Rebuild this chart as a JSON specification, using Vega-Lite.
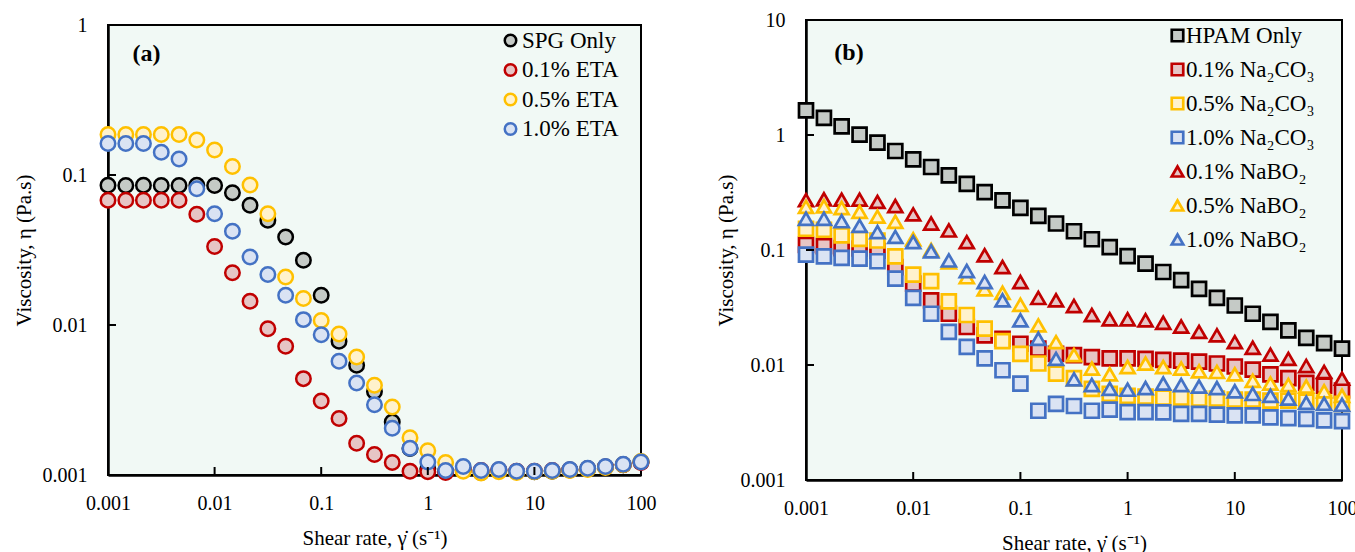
{
"$schema": "https://vega.github.io/schema/vega-lite/v6.json",
"padding": {"left": 12, "top": 9, "right": 2, "bottom": 0},
"background": "white",
"center": true,
"spacing": 57,
"config": {
  "font": "Times New Roman, Liberation Serif, serif",
  "view": {"fill": "#f1f9f5", "stroke": "black", "strokeWidth": 2},
  "axis": {"grid": false, "domainColor": "black", "domainWidth": 2.5, "ticks": false, "zindex": 1, "labelFlush": false,
           "labelFont": "Times New Roman, Liberation Serif, serif", "labelFontSize": 20, "labelColor": "black",
           "titleFont": "Times New Roman, Liberation Serif, serif", "titleFontSize": 21, "titleFontWeight": "normal", "titleColor": "black"},
  "axisX": {"labelPadding": 18, "titlePadding": 14},
  "axisY": {"labelPadding": 21},
  "legend": {"labelFont": "Times New Roman, Liberation Serif, serif", "labelFontSize": 23, "labelColor": "black", "title": null, "padding": 0, "orient": "none"}
},
"resolve": {"scale": {"x": "independent", "y": "independent", "fill": "independent", "stroke": "independent", "shape": "independent"}, "legend": {"fill": "independent", "stroke": "independent", "shape": "independent"}},
"hconcat": [
{
  "width": 533, "height": 450,
  "layer": [
    {"data": {"values": [
{"s":"SPG Only","x":0.001,"y":0.0854},{"s":"SPG Only","x":0.00147,"y":0.0852},{"s":"SPG Only","x":0.00215,"y":0.0853},{"s":"SPG Only","x":0.00316,"y":0.0852},{"s":"SPG Only","x":0.00464,"y":0.0852},{"s":"SPG Only","x":0.00681,"y":0.0853},{"s":"SPG Only","x":0.01,"y":0.085},{"s":"SPG Only","x":0.0147,"y":0.0762},{"s":"SPG Only","x":0.0215,"y":0.0628},{"s":"SPG Only","x":0.0316,"y":0.0499},{"s":"SPG Only","x":0.0464,"y":0.0386},{"s":"SPG Only","x":0.0681,"y":0.027},{"s":"SPG Only","x":0.1,"y":0.0158},{"s":"SPG Only","x":0.147,"y":0.0078},{"s":"SPG Only","x":0.215,"y":0.0054},{"s":"SPG Only","x":0.316,"y":0.0036},{"s":"SPG Only","x":0.464,"y":0.00226},{"s":"SPG Only","x":0.681,"y":0.0015},{"s":"SPG Only","x":1,"y":0.0011},{"s":"SPG Only","x":1.47,"y":0.00106},{"s":"SPG Only","x":2.15,"y":0.00108},{"s":"SPG Only","x":3.16,"y":0.00104},{"s":"SPG Only","x":4.64,"y":0.00107},{"s":"SPG Only","x":6.81,"y":0.00105},{"s":"SPG Only","x":10,"y":0.00105},{"s":"SPG Only","x":14.7,"y":0.00106},{"s":"SPG Only","x":21.5,"y":0.00108},{"s":"SPG Only","x":31.6,"y":0.0011},{"s":"SPG Only","x":46.4,"y":0.00113},{"s":"SPG Only","x":68.1,"y":0.00117},{"s":"SPG Only","x":100,"y":0.00122},
{"s":"0.1% ETA","x":0.001,"y":0.0678},{"s":"0.1% ETA","x":0.00147,"y":0.0678},{"s":"0.1% ETA","x":0.00215,"y":0.0678},{"s":"0.1% ETA","x":0.00316,"y":0.0678},{"s":"0.1% ETA","x":0.00464,"y":0.0678},{"s":"0.1% ETA","x":0.00681,"y":0.0547},{"s":"0.1% ETA","x":0.01,"y":0.0334},{"s":"0.1% ETA","x":0.0147,"y":0.0223},{"s":"0.1% ETA","x":0.0215,"y":0.0144},{"s":"0.1% ETA","x":0.0316,"y":0.00945},{"s":"0.1% ETA","x":0.0464,"y":0.00721},{"s":"0.1% ETA","x":0.0681,"y":0.00439},{"s":"0.1% ETA","x":0.1,"y":0.00311},{"s":"0.1% ETA","x":0.147,"y":0.00238},{"s":"0.1% ETA","x":0.215,"y":0.00163},{"s":"0.1% ETA","x":0.316,"y":0.00137},{"s":"0.1% ETA","x":0.464,"y":0.00121},{"s":"0.1% ETA","x":0.681,"y":0.00106},{"s":"0.1% ETA","x":1,"y":0.00105},{"s":"0.1% ETA","x":1.47,"y":0.00104},{"s":"0.1% ETA","x":2.15,"y":0.00108},{"s":"0.1% ETA","x":3.16,"y":0.00107},{"s":"0.1% ETA","x":4.64,"y":0.00108},{"s":"0.1% ETA","x":6.81,"y":0.00106},{"s":"0.1% ETA","x":10,"y":0.00106},{"s":"0.1% ETA","x":14.7,"y":0.00107},{"s":"0.1% ETA","x":21.5,"y":0.00108},{"s":"0.1% ETA","x":31.6,"y":0.0011},{"s":"0.1% ETA","x":46.4,"y":0.00113},{"s":"0.1% ETA","x":68.1,"y":0.00117},{"s":"0.1% ETA","x":100,"y":0.00121},
{"s":"0.5% ETA","x":0.001,"y":0.186},{"s":"0.5% ETA","x":0.00147,"y":0.186},{"s":"0.5% ETA","x":0.00215,"y":0.186},{"s":"0.5% ETA","x":0.00316,"y":0.186},{"s":"0.5% ETA","x":0.00464,"y":0.186},{"s":"0.5% ETA","x":0.00681,"y":0.171},{"s":"0.5% ETA","x":0.01,"y":0.147},{"s":"0.5% ETA","x":0.0147,"y":0.114},{"s":"0.5% ETA","x":0.0215,"y":0.0858},{"s":"0.5% ETA","x":0.0316,"y":0.0552},{"s":"0.5% ETA","x":0.0464,"y":0.0209},{"s":"0.5% ETA","x":0.0681,"y":0.015},{"s":"0.5% ETA","x":0.1,"y":0.0107},{"s":"0.5% ETA","x":0.147,"y":0.0087},{"s":"0.5% ETA","x":0.215,"y":0.00612},{"s":"0.5% ETA","x":0.316,"y":0.00397},{"s":"0.5% ETA","x":0.464,"y":0.00284},{"s":"0.5% ETA","x":0.681,"y":0.00177},{"s":"0.5% ETA","x":1,"y":0.00145},{"s":"0.5% ETA","x":1.47,"y":0.00121},{"s":"0.5% ETA","x":2.15,"y":0.00106},{"s":"0.5% ETA","x":3.16,"y":0.00103},{"s":"0.5% ETA","x":4.64,"y":0.00105},{"s":"0.5% ETA","x":6.81,"y":0.00104},{"s":"0.5% ETA","x":10,"y":0.00105},{"s":"0.5% ETA","x":14.7,"y":0.00106},{"s":"0.5% ETA","x":21.5,"y":0.00107},{"s":"0.5% ETA","x":31.6,"y":0.00109},{"s":"0.5% ETA","x":46.4,"y":0.00112},{"s":"0.5% ETA","x":68.1,"y":0.00117},{"s":"0.5% ETA","x":100,"y":0.00123},
{"s":"1.0% ETA","x":0.001,"y":0.162},{"s":"1.0% ETA","x":0.00147,"y":0.162},{"s":"1.0% ETA","x":0.00215,"y":0.162},{"s":"1.0% ETA","x":0.00316,"y":0.142},{"s":"1.0% ETA","x":0.00464,"y":0.128},{"s":"1.0% ETA","x":0.00681,"y":0.081},{"s":"1.0% ETA","x":0.01,"y":0.0552},{"s":"1.0% ETA","x":0.0147,"y":0.0421},{"s":"1.0% ETA","x":0.0215,"y":0.0284},{"s":"1.0% ETA","x":0.0316,"y":0.0217},{"s":"1.0% ETA","x":0.0464,"y":0.0158},{"s":"1.0% ETA","x":0.0681,"y":0.01086},{"s":"1.0% ETA","x":0.1,"y":0.00862},{"s":"1.0% ETA","x":0.147,"y":0.00573},{"s":"1.0% ETA","x":0.215,"y":0.00411},{"s":"1.0% ETA","x":0.316,"y":0.00294},{"s":"1.0% ETA","x":0.464,"y":0.00205},{"s":"1.0% ETA","x":0.681,"y":0.00151},{"s":"1.0% ETA","x":1,"y":0.00122},{"s":"1.0% ETA","x":1.47,"y":0.00107},{"s":"1.0% ETA","x":2.15,"y":0.00114},{"s":"1.0% ETA","x":3.16,"y":0.00107},{"s":"1.0% ETA","x":4.64,"y":0.00109},{"s":"1.0% ETA","x":6.81,"y":0.00106},{"s":"1.0% ETA","x":10,"y":0.00106},{"s":"1.0% ETA","x":14.7,"y":0.00107},{"s":"1.0% ETA","x":21.5,"y":0.00109},{"s":"1.0% ETA","x":31.6,"y":0.00111},{"s":"1.0% ETA","x":46.4,"y":0.00114},{"s":"1.0% ETA","x":68.1,"y":0.00118},{"s":"1.0% ETA","x":100,"y":0.00122}
     ]},
     "mark": {"type": "point", "shape": "circle", "filled": true, "opacity": 1, "strokeWidth": 2.5, "size": 210, "clip": false},
     "encoding": {
       "x": {"field": "x", "type": "quantitative", "scale": {"type": "log", "domain": [0.001, 100], "nice": false},
             "axis": {"title": "Shear rate, γ̇ (s⁻¹)", "values": [0.001, 0.01, 0.1, 1, 10, 100], "format": "~g", "labelFlush": false}},
       "y": {"field": "y", "type": "quantitative", "scale": {"type": "log", "domain": [0.001, 1], "nice": false},
             "axis": {"title": "Viscosity, η (Pa.s)", "values": [0.001, 0.01, 0.1, 1], "format": "~g", "titlePadding": 8, "labelFlush": false}},
       "fill": {"field": "s", "type": "nominal", "scale": {"domain": ["SPG Only", "0.1% ETA", "0.5% ETA", "1.0% ETA"], "range": ["#c5cac6", "#e6c5c5", "#fff2cc", "#dae3f3"]},
                "legend": {"legendX": 391, "legendY": 4, "symbolSize": 132, "symbolStrokeWidth": 2.5, "labelOffset": 0, "rowPadding": 5.5, "symbolType": "circle"}},
       "stroke": {"field": "s", "type": "nominal", "scale": {"domain": ["SPG Only", "0.1% ETA", "0.5% ETA", "1.0% ETA"], "range": ["#000000", "#c00000", "#ffc000", "#4472c4"]},
                "legend": {"legendX": 391, "legendY": 4, "symbolSize": 132, "symbolStrokeWidth": 2.5, "labelOffset": 0, "rowPadding": 5.5, "symbolType": "circle"}}
     }},
    {"data": {"values": [{"x": 0.01}, {"x": 0.1}, {"x": 1}, {"x": 10}]},
     "mark": {"type": "tick", "orient": "vertical", "size": 8, "thickness": 2, "yOffset": -4, "color": "black", "opacity": 1},
     "encoding": {"x": {"field": "x", "type": "quantitative"}, "y": {"datum": 0.001}}},
    {"data": {"values": [{"y": 0.01}, {"y": 0.1}]},
     "mark": {"type": "tick", "orient": "horizontal", "size": 8, "thickness": 2, "xOffset": 4, "color": "black", "opacity": 1},
     "encoding": {"y": {"field": "y", "type": "quantitative"}, "x": {"datum": 0.001}}},
    {"data": {"values": [{"label": "(a)"}]},
     "mark": {"type": "text", "fontWeight": "bold", "fontSize": 24, "font": "Times New Roman, Liberation Serif, serif", "color": "black"},
     "encoding": {"text": {"field": "label"}, "x": {"datum": 0.0023}, "y": {"datum": 0.64}}}
  ]
},
{
  "width": 536, "height": 460,
  "layer": [
    {"data": {"values": [
{"s":"HPAM Only","x":0.001,"y":1.64},{"s":"HPAM Only","x":0.00147,"y":1.41},{"s":"HPAM Only","x":0.00215,"y":1.19},{"s":"HPAM Only","x":0.00316,"y":1.006},{"s":"HPAM Only","x":0.00464,"y":0.857},{"s":"HPAM Only","x":0.00681,"y":0.726},{"s":"HPAM Only","x":0.01,"y":0.614},{"s":"HPAM Only","x":0.0147,"y":0.527},{"s":"HPAM Only","x":0.0215,"y":0.446},{"s":"HPAM Only","x":0.0316,"y":0.376},{"s":"HPAM Only","x":0.0464,"y":0.319},{"s":"HPAM Only","x":0.0681,"y":0.27},{"s":"HPAM Only","x":0.1,"y":0.232},{"s":"HPAM Only","x":0.147,"y":0.198},{"s":"HPAM Only","x":0.215,"y":0.17},{"s":"HPAM Only","x":0.316,"y":0.1455},{"s":"HPAM Only","x":0.464,"y":0.124},{"s":"HPAM Only","x":0.681,"y":0.106},{"s":"HPAM Only","x":1,"y":0.0885},{"s":"HPAM Only","x":1.47,"y":0.076},{"s":"HPAM Only","x":2.15,"y":0.0644},{"s":"HPAM Only","x":3.16,"y":0.0546},{"s":"HPAM Only","x":4.64,"y":0.046},{"s":"HPAM Only","x":6.81,"y":0.0383},{"s":"HPAM Only","x":10,"y":0.0329},{"s":"HPAM Only","x":14.7,"y":0.0279},{"s":"HPAM Only","x":21.5,"y":0.0237},{"s":"HPAM Only","x":31.6,"y":0.02},{"s":"HPAM Only","x":46.4,"y":0.0172},{"s":"HPAM Only","x":68.1,"y":0.0155},{"s":"HPAM Only","x":100,"y":0.0139},
{"s":"0.1% Na₂CO₃","x":0.001,"y":0.111},{"s":"0.1% Na₂CO₃","x":0.00147,"y":0.108},{"s":"0.1% Na₂CO₃","x":0.00215,"y":0.104},{"s":"0.1% Na₂CO₃","x":0.00316,"y":0.103},{"s":"0.1% Na₂CO₃","x":0.00464,"y":0.0985},{"s":"0.1% Na₂CO₃","x":0.00681,"y":0.0711},{"s":"0.1% Na₂CO₃","x":0.01,"y":0.051},{"s":"0.1% Na₂CO₃","x":0.0147,"y":0.0365},{"s":"0.1% Na₂CO₃","x":0.0215,"y":0.0279},{"s":"0.1% Na₂CO₃","x":0.0316,"y":0.0214},{"s":"0.1% Na₂CO₃","x":0.0464,"y":0.0181},{"s":"0.1% Na₂CO₃","x":0.0681,"y":0.0169},{"s":"0.1% Na₂CO₃","x":0.1,"y":0.0153},{"s":"0.1% Na₂CO₃","x":0.147,"y":0.0139},{"s":"0.1% Na₂CO₃","x":0.215,"y":0.0125},{"s":"0.1% Na₂CO₃","x":0.316,"y":0.0122},{"s":"0.1% Na₂CO₃","x":0.464,"y":0.0117},{"s":"0.1% Na₂CO₃","x":0.681,"y":0.0114},{"s":"0.1% Na₂CO₃","x":1,"y":0.0114},{"s":"0.1% Na₂CO₃","x":1.47,"y":0.0113},{"s":"0.1% Na₂CO₃","x":2.15,"y":0.0111},{"s":"0.1% Na₂CO₃","x":3.16,"y":0.0109},{"s":"0.1% Na₂CO₃","x":4.64,"y":0.0107},{"s":"0.1% Na₂CO₃","x":6.81,"y":0.0103},{"s":"0.1% Na₂CO₃","x":10,"y":0.0097},{"s":"0.1% Na₂CO₃","x":14.7,"y":0.0091},{"s":"0.1% Na₂CO₃","x":21.5,"y":0.0083},{"s":"0.1% Na₂CO₃","x":31.6,"y":0.0077},{"s":"0.1% Na₂CO₃","x":46.4,"y":0.007},{"s":"0.1% Na₂CO₃","x":68.1,"y":0.0066},{"s":"0.1% Na₂CO₃","x":100,"y":0.006},
{"s":"0.5% Na₂CO₃","x":0.001,"y":0.153},{"s":"0.5% Na₂CO₃","x":0.00147,"y":0.15},{"s":"0.5% Na₂CO₃","x":0.00215,"y":0.134},{"s":"0.5% Na₂CO₃","x":0.00316,"y":0.125},{"s":"0.5% Na₂CO₃","x":0.00464,"y":0.121},{"s":"0.5% Na₂CO₃","x":0.00681,"y":0.088},{"s":"0.5% Na₂CO₃","x":0.01,"y":0.061},{"s":"0.5% Na₂CO₃","x":0.0147,"y":0.0537},{"s":"0.5% Na₂CO₃","x":0.0215,"y":0.0357},{"s":"0.5% Na₂CO₃","x":0.0316,"y":0.0272},{"s":"0.5% Na₂CO₃","x":0.0464,"y":0.0207},{"s":"0.5% Na₂CO₃","x":0.0681,"y":0.0161},{"s":"0.5% Na₂CO₃","x":0.1,"y":0.0125},{"s":"0.5% Na₂CO₃","x":0.147,"y":0.0103},{"s":"0.5% Na₂CO₃","x":0.215,"y":0.0084},{"s":"0.5% Na₂CO₃","x":0.316,"y":0.0077},{"s":"0.5% Na₂CO₃","x":0.464,"y":0.0062},{"s":"0.5% Na₂CO₃","x":0.681,"y":0.0056},{"s":"0.5% Na₂CO₃","x":1,"y":0.0054},{"s":"0.5% Na₂CO₃","x":1.47,"y":0.0053},{"s":"0.5% Na₂CO₃","x":2.15,"y":0.0052},{"s":"0.5% Na₂CO₃","x":3.16,"y":0.0052},{"s":"0.5% Na₂CO₃","x":4.64,"y":0.0051},{"s":"0.5% Na₂CO₃","x":6.81,"y":0.0051},{"s":"0.5% Na₂CO₃","x":10,"y":0.005},{"s":"0.5% Na₂CO₃","x":14.7,"y":0.005},{"s":"0.5% Na₂CO₃","x":21.5,"y":0.0049},{"s":"0.5% Na₂CO₃","x":31.6,"y":0.0049},{"s":"0.5% Na₂CO₃","x":46.4,"y":0.0048},{"s":"0.5% Na₂CO₃","x":68.1,"y":0.0047},{"s":"0.5% Na₂CO₃","x":100,"y":0.0046},
{"s":"1.0% Na₂CO₃","x":0.001,"y":0.091},{"s":"1.0% Na₂CO₃","x":0.00147,"y":0.088},{"s":"1.0% Na₂CO₃","x":0.00215,"y":0.0853},{"s":"1.0% Na₂CO₃","x":0.00316,"y":0.0843},{"s":"1.0% Na₂CO₃","x":0.00464,"y":0.0798},{"s":"1.0% Na₂CO₃","x":0.00681,"y":0.0563},{"s":"1.0% Na₂CO₃","x":0.01,"y":0.0383},{"s":"1.0% Na₂CO₃","x":0.0147,"y":0.0279},{"s":"1.0% Na₂CO₃","x":0.0215,"y":0.0194},{"s":"1.0% Na₂CO₃","x":0.0316,"y":0.0144},{"s":"1.0% Na₂CO₃","x":0.0464,"y":0.0114},{"s":"1.0% Na₂CO₃","x":0.0681,"y":0.009},{"s":"1.0% Na₂CO₃","x":0.1,"y":0.0069},{"s":"1.0% Na₂CO₃","x":0.147,"y":0.004},{"s":"1.0% Na₂CO₃","x":0.215,"y":0.0046},{"s":"1.0% Na₂CO₃","x":0.316,"y":0.0044},{"s":"1.0% Na₂CO₃","x":0.464,"y":0.004},{"s":"1.0% Na₂CO₃","x":0.681,"y":0.0041},{"s":"1.0% Na₂CO₃","x":1,"y":0.0039},{"s":"1.0% Na₂CO₃","x":1.47,"y":0.0039},{"s":"1.0% Na₂CO₃","x":2.15,"y":0.00388},{"s":"1.0% Na₂CO₃","x":3.16,"y":0.00376},{"s":"1.0% Na₂CO₃","x":4.64,"y":0.00376},{"s":"1.0% Na₂CO₃","x":6.81,"y":0.0037},{"s":"1.0% Na₂CO₃","x":10,"y":0.00365},{"s":"1.0% Na₂CO₃","x":14.7,"y":0.00365},{"s":"1.0% Na₂CO₃","x":21.5,"y":0.0035},{"s":"1.0% Na₂CO₃","x":31.6,"y":0.00345},{"s":"1.0% Na₂CO₃","x":46.4,"y":0.0034},{"s":"1.0% Na₂CO₃","x":68.1,"y":0.0033},{"s":"1.0% Na₂CO₃","x":100,"y":0.00325},
{"s":"0.1% NaBO₂","x":0.001,"y":0.271},{"s":"0.1% NaBO₂","x":0.00147,"y":0.276},{"s":"0.1% NaBO₂","x":0.00215,"y":0.274},{"s":"0.1% NaBO₂","x":0.00316,"y":0.274},{"s":"0.1% NaBO₂","x":0.00464,"y":0.262},{"s":"0.1% NaBO₂","x":0.00681,"y":0.241},{"s":"0.1% NaBO₂","x":0.01,"y":0.204},{"s":"0.1% NaBO₂","x":0.0147,"y":0.17},{"s":"0.1% NaBO₂","x":0.0215,"y":0.148},{"s":"0.1% NaBO₂","x":0.0316,"y":0.117},{"s":"0.1% NaBO₂","x":0.0464,"y":0.09},{"s":"0.1% NaBO₂","x":0.0681,"y":0.0711},{"s":"0.1% NaBO₂","x":0.1,"y":0.0527},{"s":"0.1% NaBO₂","x":0.147,"y":0.0383},{"s":"0.1% NaBO₂","x":0.215,"y":0.0365},{"s":"0.1% NaBO₂","x":0.316,"y":0.0326},{"s":"0.1% NaBO₂","x":0.464,"y":0.0272},{"s":"0.1% NaBO₂","x":0.681,"y":0.025},{"s":"0.1% NaBO₂","x":1,"y":0.025},{"s":"0.1% NaBO₂","x":1.47,"y":0.0245},{"s":"0.1% NaBO₂","x":2.15,"y":0.0233},{"s":"0.1% NaBO₂","x":3.16,"y":0.0216},{"s":"0.1% NaBO₂","x":4.64,"y":0.0194},{"s":"0.1% NaBO₂","x":6.81,"y":0.0181},{"s":"0.1% NaBO₂","x":10,"y":0.0158},{"s":"0.1% NaBO₂","x":14.7,"y":0.0141},{"s":"0.1% NaBO₂","x":21.5,"y":0.0123},{"s":"0.1% NaBO₂","x":31.6,"y":0.0113},{"s":"0.1% NaBO₂","x":46.4,"y":0.0098},{"s":"0.1% NaBO₂","x":68.1,"y":0.0087},{"s":"0.1% NaBO₂","x":100,"y":0.0076},
{"s":"0.5% NaBO₂","x":0.001,"y":0.237},{"s":"0.5% NaBO₂","x":0.00147,"y":0.24},{"s":"0.5% NaBO₂","x":0.00215,"y":0.232},{"s":"0.5% NaBO₂","x":0.00316,"y":0.215},{"s":"0.5% NaBO₂","x":0.00464,"y":0.195},{"s":"0.5% NaBO₂","x":0.00681,"y":0.176},{"s":"0.5% NaBO₂","x":0.01,"y":0.124},{"s":"0.5% NaBO₂","x":0.0147,"y":0.1},{"s":"0.5% NaBO₂","x":0.0215,"y":0.078},{"s":"0.5% NaBO₂","x":0.0316,"y":0.058},{"s":"0.5% NaBO₂","x":0.0464,"y":0.0455},{"s":"0.5% NaBO₂","x":0.0681,"y":0.0424},{"s":"0.5% NaBO₂","x":0.1,"y":0.0334},{"s":"0.5% NaBO₂","x":0.147,"y":0.0221},{"s":"0.5% NaBO₂","x":0.215,"y":0.0158},{"s":"0.5% NaBO₂","x":0.316,"y":0.0122},{"s":"0.5% NaBO₂","x":0.464,"y":0.0093},{"s":"0.5% NaBO₂","x":0.681,"y":0.0083},{"s":"0.5% NaBO₂","x":1,"y":0.0096},{"s":"0.5% NaBO₂","x":1.47,"y":0.0103},{"s":"0.5% NaBO₂","x":2.15,"y":0.0096},{"s":"0.5% NaBO₂","x":3.16,"y":0.0093},{"s":"0.5% NaBO₂","x":4.64,"y":0.0088},{"s":"0.5% NaBO₂","x":6.81,"y":0.0087},{"s":"0.5% NaBO₂","x":10,"y":0.0083},{"s":"0.5% NaBO₂","x":14.7,"y":0.0073},{"s":"0.5% NaBO₂","x":21.5,"y":0.0069},{"s":"0.5% NaBO₂","x":31.6,"y":0.0067},{"s":"0.5% NaBO₂","x":46.4,"y":0.0065},{"s":"0.5% NaBO₂","x":68.1,"y":0.0059},{"s":"0.5% NaBO₂","x":100,"y":0.0054},
{"s":"1.0% NaBO₂","x":0.001,"y":0.187},{"s":"1.0% NaBO₂","x":0.00147,"y":0.187},{"s":"1.0% NaBO₂","x":0.00215,"y":0.178},{"s":"1.0% NaBO₂","x":0.00316,"y":0.162},{"s":"1.0% NaBO₂","x":0.00464,"y":0.143},{"s":"1.0% NaBO₂","x":0.00681,"y":0.13},{"s":"1.0% NaBO₂","x":0.01,"y":0.117},{"s":"1.0% NaBO₂","x":0.0147,"y":0.0973},{"s":"1.0% NaBO₂","x":0.0215,"y":0.0811},{"s":"1.0% NaBO₂","x":0.0316,"y":0.0657},{"s":"1.0% NaBO₂","x":0.0464,"y":0.0527},{"s":"1.0% NaBO₂","x":0.0681,"y":0.0365},{"s":"1.0% NaBO₂","x":0.1,"y":0.0245},{"s":"1.0% NaBO₂","x":0.147,"y":0.0169},{"s":"1.0% NaBO₂","x":0.215,"y":0.0113},{"s":"1.0% NaBO₂","x":0.316,"y":0.0075},{"s":"1.0% NaBO₂","x":0.464,"y":0.0067},{"s":"1.0% NaBO₂","x":0.681,"y":0.0062},{"s":"1.0% NaBO₂","x":1,"y":0.0061},{"s":"1.0% NaBO₂","x":1.47,"y":0.0063},{"s":"1.0% NaBO₂","x":2.15,"y":0.0069},{"s":"1.0% NaBO₂","x":3.16,"y":0.0067},{"s":"1.0% NaBO₂","x":4.64,"y":0.0065},{"s":"1.0% NaBO₂","x":6.81,"y":0.0063},{"s":"1.0% NaBO₂","x":10,"y":0.0059},{"s":"1.0% NaBO₂","x":14.7,"y":0.0056},{"s":"1.0% NaBO₂","x":21.5,"y":0.0054},{"s":"1.0% NaBO₂","x":31.6,"y":0.0051},{"s":"1.0% NaBO₂","x":46.4,"y":0.0047},{"s":"1.0% NaBO₂","x":68.1,"y":0.0046},{"s":"1.0% NaBO₂","x":100,"y":0.0045}
     ]},
     "mark": {"type": "point", "filled": true, "opacity": 1, "strokeWidth": 2.7, "size": 196, "clip": false},
     "encoding": {
       "x": {"field": "x", "type": "quantitative", "scale": {"type": "log", "domain": [0.001, 100], "nice": false},
             "axis": {"title": "Shear rate, γ̇ (s⁻¹)", "values": [0.001, 0.01, 0.1, 1, 10, 100], "format": "~g", "labelFlush": false}},
       "y": {"field": "y", "type": "quantitative", "scale": {"type": "log", "domain": [0.001, 10], "nice": false},
             "axis": {"title": "Viscosity, η (Pa.s)", "values": [0.001, 0.01, 0.1, 1, 10], "format": "~g", "titlePadding": 4, "labelFlush": false}},
       "fill": {"field": "s", "type": "nominal", "scale": {"domain": ["HPAM Only", "0.1% Na₂CO₃", "0.5% Na₂CO₃", "1.0% Na₂CO₃", "0.1% NaBO₂", "0.5% NaBO₂", "1.0% NaBO₂"], "range": ["#c5cac6", "#e6c5c5", "#fff2cc", "#dae3f3", "#e6c5c5", "#fff2cc", "#dae3f3"]},
                "legend": {"legendX": 360, "legendY": 4, "symbolSize": 132, "symbolStrokeWidth": 2.7, "labelOffset": -3, "rowPadding": 10}},
       "stroke": {"field": "s", "type": "nominal", "scale": {"domain": ["HPAM Only", "0.1% Na₂CO₃", "0.5% Na₂CO₃", "1.0% Na₂CO₃", "0.1% NaBO₂", "0.5% NaBO₂", "1.0% NaBO₂"], "range": ["#000000", "#c00000", "#ffc000", "#4472c4", "#c00000", "#ffc000", "#4472c4"]},
                "legend": {"legendX": 360, "legendY": 4, "symbolSize": 132, "symbolStrokeWidth": 2.7, "labelOffset": -3, "rowPadding": 10}},
       "shape": {"field": "s", "type": "nominal", "scale": {"domain": ["HPAM Only", "0.1% Na₂CO₃", "0.5% Na₂CO₃", "1.0% Na₂CO₃", "0.1% NaBO₂", "0.5% NaBO₂", "1.0% NaBO₂"], "range": ["square", "square", "square", "square", "triangle-up", "triangle-up", "triangle-up"]},
                "legend": {"legendX": 360, "legendY": 4, "symbolSize": 132, "symbolStrokeWidth": 2.7, "labelOffset": -3, "rowPadding": 10}}
     }},
    {"data": {"values": [{"x": 0.01}, {"x": 0.1}, {"x": 1}, {"x": 10}]},
     "mark": {"type": "tick", "orient": "vertical", "size": 8, "thickness": 2, "yOffset": -4, "color": "black", "opacity": 1},
     "encoding": {"x": {"field": "x", "type": "quantitative"}, "y": {"datum": 0.001}}},
    {"data": {"values": [{"y": 0.01}, {"y": 0.1}, {"y": 1}]},
     "mark": {"type": "tick", "orient": "horizontal", "size": 8, "thickness": 2, "xOffset": 4, "color": "black", "opacity": 1},
     "encoding": {"y": {"field": "y", "type": "quantitative"}, "x": {"datum": 0.001}}},
    {"data": {"values": [{"label": "(b)"}]},
     "mark": {"type": "text", "fontWeight": "bold", "fontSize": 24, "font": "Times New Roman, Liberation Serif, serif", "color": "black"},
     "encoding": {"text": {"field": "label"}, "x": {"datum": 0.00252}, "y": {"datum": 5.16}}}
  ]
}
]
}
